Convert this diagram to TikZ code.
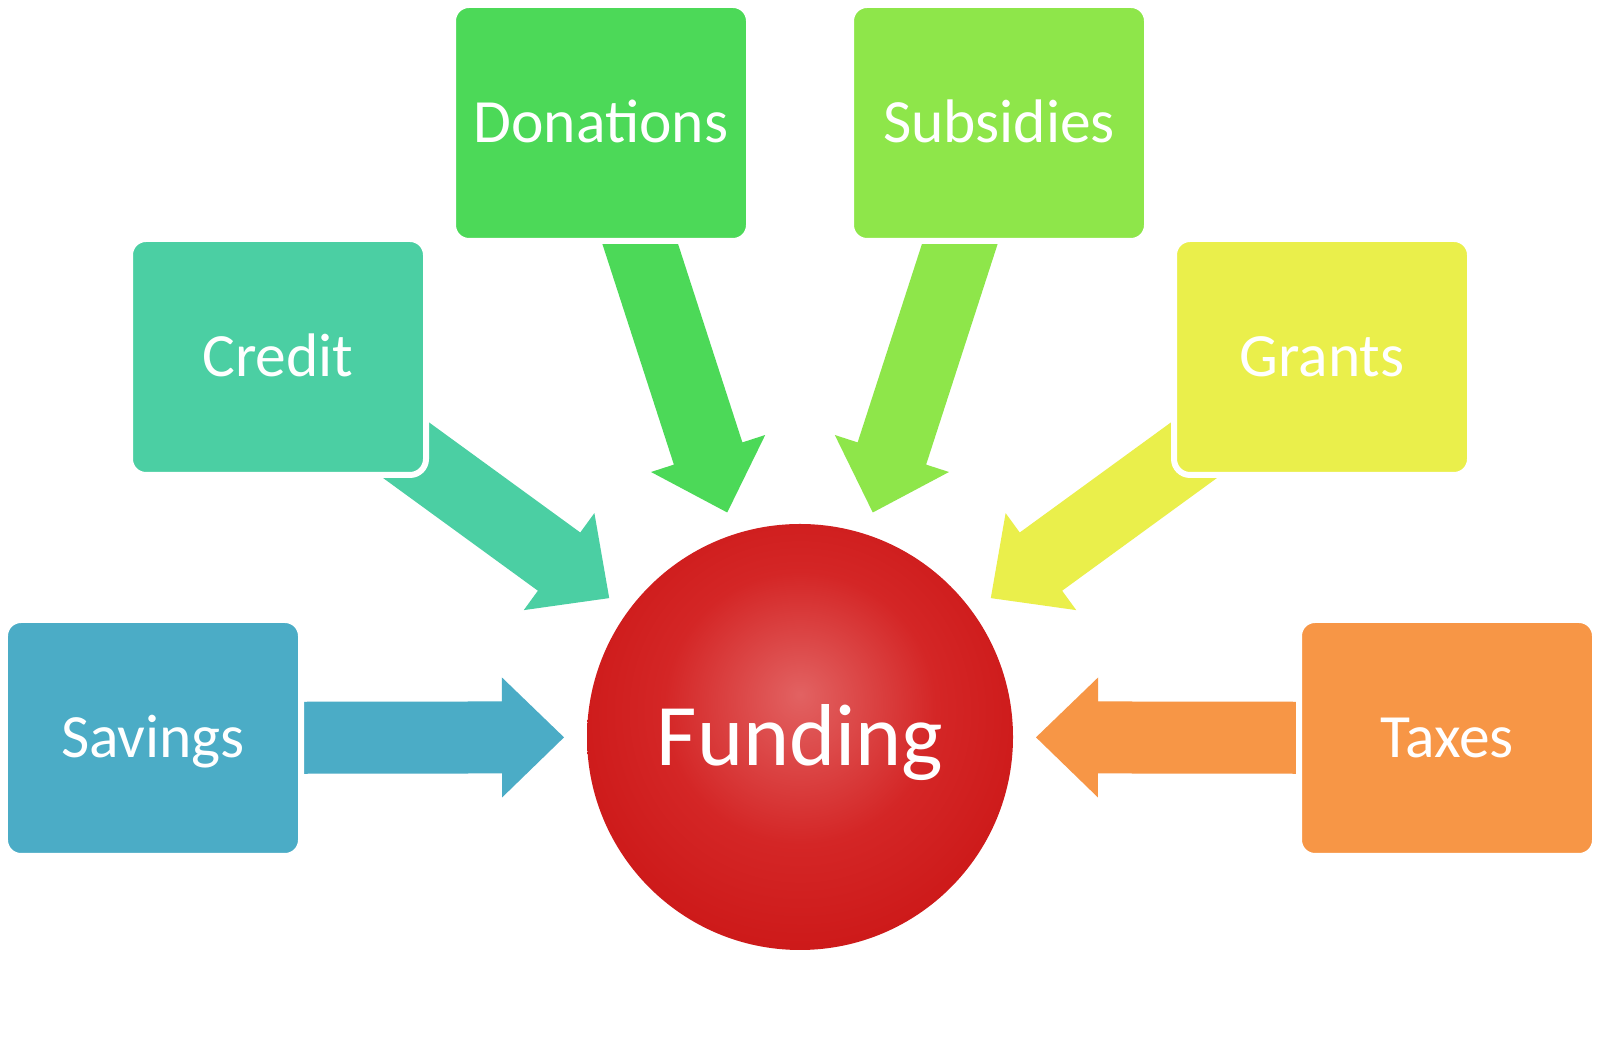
\documentclass[tikz,border=0pt]{standalone}
\usepackage{fontspec}
\setmainfont{Carlito}
\usetikzlibrary{calc}
\pgfdeclarelayer{background}
\pgfsetlayers{background,main}

\definecolor{savingsblue}{HTML}{4BACC6}
\definecolor{creditteal}{HTML}{4BCFA3}
\definecolor{donationsgreen}{HTML}{4CD958}
\definecolor{subsidiesgreen}{HTML}{8EE64A}
\definecolor{grantsyellow}{HTML}{EAEF4B}
\definecolor{taxesorange}{HTML}{F79646}
\definecolor{fundlight}{HTML}{E26262}
\definecolor{fundmid}{HTML}{D42626}
\definecolor{funddark}{HTML}{BF0000}

\pgfdeclareradialshading{fundingball}{\pgfpoint{0bp}{5bp}}{color(0bp)=(fundlight); color(16bp)=(fundmid); color(50bp)=(funddark)}

% block arrow from a box towards the sphere
\newcommand{\flowarrow}[2]{%
  \coordinate (tip) at ($(funding)!2.36cm!(#1)$);
  \coordinate (base) at ($(tip)!0.62cm!(#1)$);
  \fill[#2] ($(#1)!0.36cm!90:(tip)$) -- ($(base)!0.36cm!90:(tip)$)
    -- ($(base)!0.6cm!90:(tip)$) -- (tip) -- ($(base)!0.6cm!-90:(tip)$)
    -- ($(base)!0.36cm!-90:(tip)$) -- ($(#1)!0.36cm!-90:(tip)$) -- cycle;
}

\begin{document}
\begin{tikzpicture}[
    box/.style={rectangle, rounded corners=0.16cm, draw=white, line width=0.06cm,
      minimum width=2.96cm, minimum height=2.36cm, text=white,
      font=\fontsize{17.5}{20}\selectfont, text height=11.3pt, text depth=0pt}
  ]
		% Canvas
		\useasboundingbox (0,0) rectangle (16,10.4);
		\begin{pgfonlayer}{background}
			\fill[white] (0,0) rectangle (16,10.4);
		\end{pgfonlayer}

		% Central sphere
		\node[circle, minimum size=4.26cm, inner sep=0pt, shade, shading=fundingball,
		  text=white, font=\fontsize{25}{28}\selectfont, text height=16.1pt, text depth=0pt]
		  (funding) at (8,3.03) {Funding};

		% Sources
		\node[box, fill=donationsgreen] (donations) at (6.01,9.17) {Donations};
		\node[box, fill=subsidiesgreen] (subsidies) at (9.99,9.17) {Subsidies};
		\node[box, fill=creditteal] (credit) at (2.78,6.83) {Credit};
		\node[box, fill=grantsyellow] (grants) at (13.22,6.83) {Grants};
		\node[box, fill=savingsblue] (savings) at (1.53,3.02) {Savings};
		\node[box, fill=taxesorange] (taxes) at (14.47,3.02) {Taxes};

		% Arrows behind the boxes
		\begin{pgfonlayer}{background}
			\foreach \src/\col in {savings/savingsblue, credit/creditteal, donations/donationsgreen,
			  subsidies/subsidiesgreen, grants/grantsyellow, taxes/taxesorange}
			  {\flowarrow{\src}{\col}}
		\end{pgfonlayer}
	\end{tikzpicture}
\end{document}
